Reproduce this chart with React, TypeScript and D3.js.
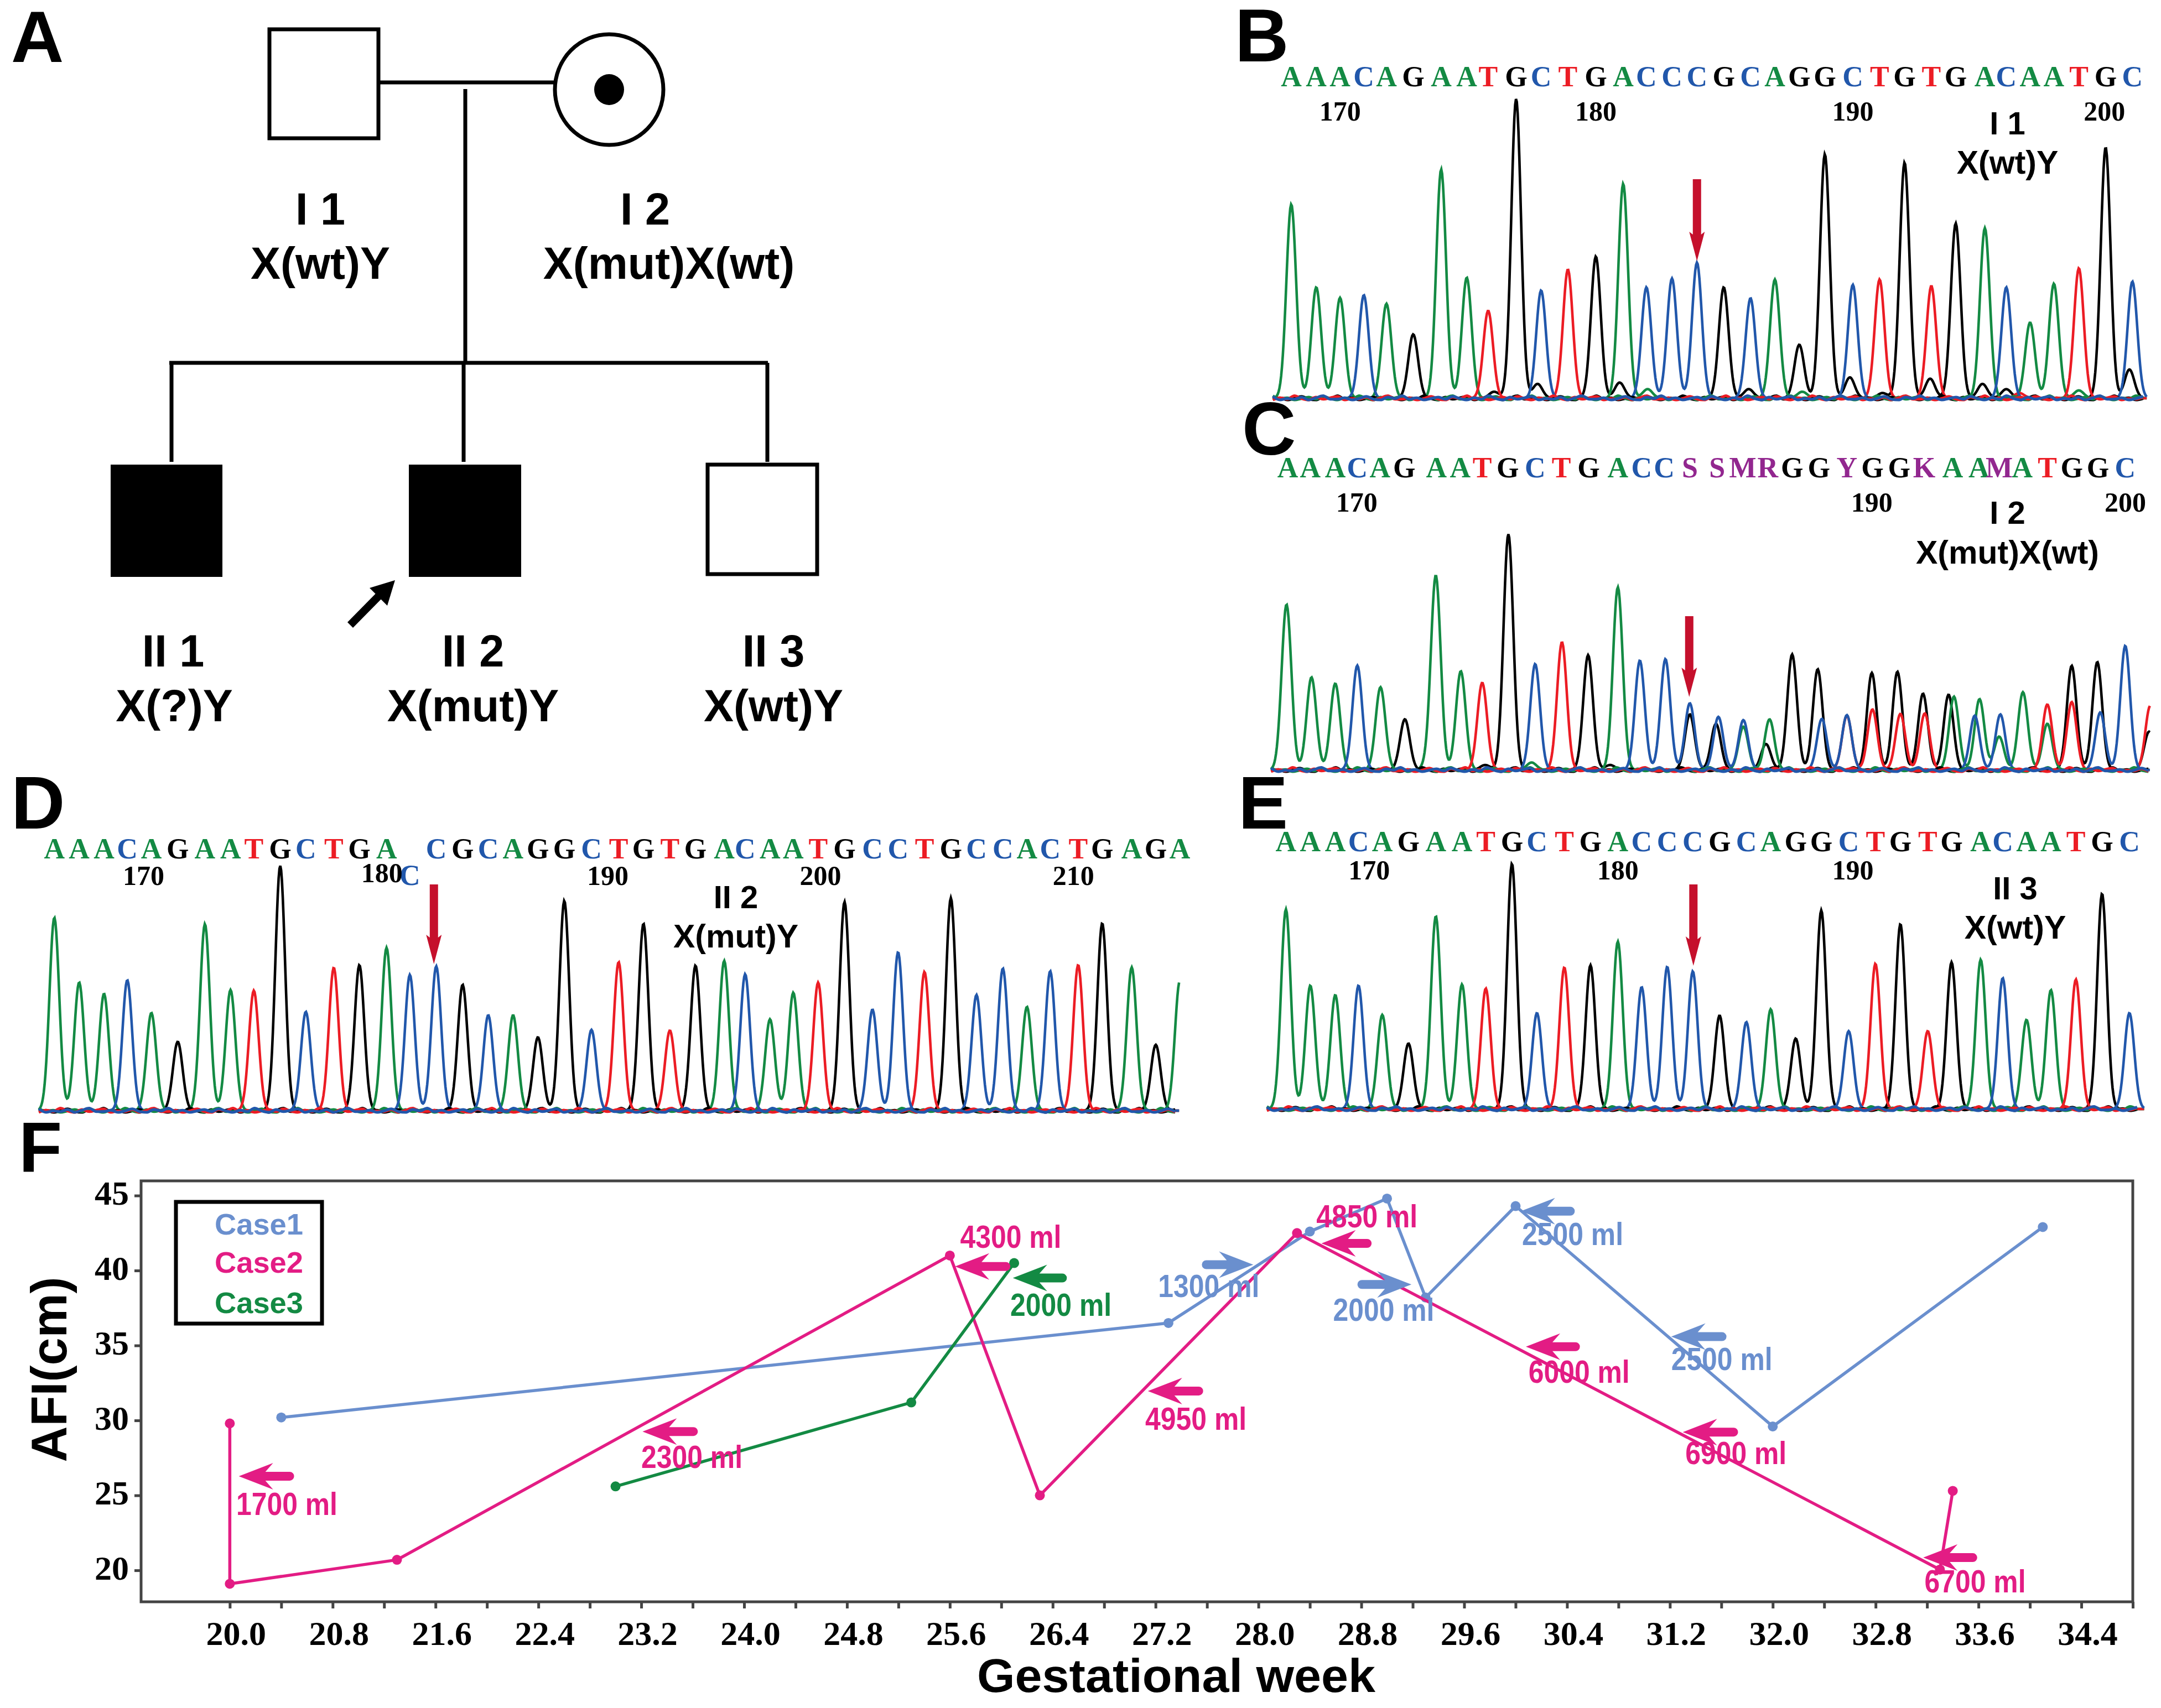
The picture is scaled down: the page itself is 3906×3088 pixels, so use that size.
import React, { useEffect, useRef } from 'react'
import * as d3 from 'd3'

// panel F: gestational week / AFI series
const case1Weeks = [20.4, 27.3, 28.4, 29.0, 29.3, 30.0, 32.0, 34.1]
const case1Afi = [30.2, 36.5, 42.6, 44.8, 38.2, 44.3, 29.6, 42.9]
const case2Weeks = [20.0, 20.0, 21.3, 25.6, 26.3, 28.3, 33.3, 33.4]
const case2Afi = [29.8, 19.1, 20.7, 41.0, 25.0, 42.5, 20.05, 25.3]
const case3Weeks = [23.0, 25.3, 26.1]
const case3Afi = [25.6, 31.2, 40.5]
const caseNames = ['Case1', 'Case2', 'Case3']
const caseColors = ['#6a8fce', '#e31c84', '#138a43']
const afiTicks = [20, 25, 30, 35, 40, 45]

// drainage volume call-outs, in week / AFI units
const volumeLabels = ['1700 ml', '2300 ml', '4300 ml', '2000 ml', '1300 ml', '4850 ml', '2000 ml', '2500 ml', '2500 ml', '6000 ml', '6900 ml', '6700 ml', '4950 ml']
const volumeCase = [1, 1, 1, 2, 0, 1, 0, 0, 0, 1, 1, 1, 1]
const volumeTipWeek = [20.07, 23.21, 25.64, 26.09, 27.96, 28.49, 29.19, 30.04, 31.21, 30.08, 31.3, 33.17, 27.14]
const volumeTailWeek = [20.5, 23.64, 26.07, 26.51, 27.56, 28.88, 28.77, 30.46, 31.64, 30.5, 31.73, 33.59, 27.57]
const volumeArrowAfi = [26.28, 29.26, 40.27, 39.5, 40.39, 41.81, 39.07, 43.96, 35.59, 34.92, 29.22, 20.85, 31.96]
const volumeTextWeek = [20.05, 23.2, 25.68, 26.07, 27.22, 28.45, 28.58, 30.05, 31.21, 30.1, 31.32, 33.18, 27.12]
const volumeTextAfi = [23.71, 26.82, 41.51, 36.96, 38.23, 42.88, 36.66, 41.71, 33.35, 32.5, 27.07, 18.53, 29.39]

// panel B trace
const seqB = 'AAACAGAATGCTGACCCGCAGGCTGTGACAATGC'
const posB = [106, 148, 188, 228, 266, 311, 358, 401, 437, 484, 526, 571, 618, 664, 703, 746, 788, 833, 878, 919, 960, 1003, 1050, 1095, 1137, 1182, 1223, 1272, 1308, 1348, 1388, 1430, 1475, 1520]
const heightB = [743, 425, 385, 395, 362, 245, 877, 462, 335, 1147, 413, 493, 543, 822, 425, 459, 520, 425, 383, 455, 205, 935, 435, 455, 903, 430, 670, 652, 425, 290, 439, 498, 960, 447]
const minorBaseB = 'GGAGGGGGAGGTAG'
const minorPosB = [520, 658, 705, 875, 1045, 1180, 1268, 1515, 1430, 1100, 447, 1330, 965, 1308]
const minorHeightB = [55, 60, 35, 35, 80, 75, 55, 110, 30, 20, 25, 20, 25, 35]

// panel C trace, heterozygous after the arrow
const seqC = 'AAACAGAATGCTGACCSSMRGGYGGKAAMATGGC'
const seqPosC = [100, 138, 180, 217, 255, 296, 350, 390, 427, 470, 516, 560, 606, 655, 695, 733, 776, 822, 865, 907, 948, 993, 1040, 1083, 1128, 1170, 1218, 1262, 1296, 1335, 1377, 1418, 1462, 1508]
const baseC = 'AAACAGAATGCTGACCCGCGCAAGGGCCTGTGTGTGACACAATAGTGCCTGAGAG'
const posC = [98, 140, 180, 217, 256, 297, 349, 391, 427, 471, 516, 561, 605, 655, 692, 735, 776, 776, 824, 820, 866, 866, 910, 904, 948, 991, 998, 1040, 1040, 1082, 1083, 1125, 1130, 1168, 1171, 1211, 1220, 1255, 1263, 1298, 1296, 1336, 1377, 1377, 1418, 1418, 1461, 1466, 1508, 1550, 1548, 335, 432, 510, 642]
const heightC = [670, 375, 350, 423, 335, 205, 783, 400, 353, 955, 429, 517, 465, 740, 443, 449, 270, 225, 215, 187, 202, 175, 205, 105, 468, 408, 207, 222, 220, 393, 245, 398, 227, 309, 229, 305, 297, 220, 287, 225, 135, 315, 265, 187, 422, 275, 437, 233, 503, 260, 155, 20, 20, 30, 20]

// panel D trace
const seqD = 'AAACAGAATGCTGACCGCAGGCTGTGACAATGCCTGCCACTGAGA'
const posD = [70, 102, 134, 164, 195, 229, 264, 297, 327, 361, 394, 430, 463, 498, 528, 562, 596, 629, 661, 693, 727, 762, 797, 829, 863, 896, 933, 960, 992, 1022, 1054, 1088, 1124, 1157, 1191, 1225, 1258, 1292, 1323, 1353, 1389, 1420, 1458, 1489, 1520]
const heightD = [855, 568, 518, 578, 433, 305, 827, 535, 532, 1085, 438, 633, 645, 722, 602, 640, 558, 423, 423, 325, 930, 358, 658, 828, 355, 643, 664, 605, 405, 523, 568, 925, 448, 702, 615, 942, 513, 630, 460, 618, 645, 830, 635, 292, 575]

// panel E trace
const seqE = 'AAACAGAATGCTGACCCGCAGGCTGTGACAATGC'
const posE = [97, 138, 180, 219, 259, 303, 349, 393, 433, 477, 519, 565, 609, 655, 695, 738, 781, 826, 871, 912, 954, 997, 1043, 1088, 1130, 1176, 1216, 1265, 1302, 1342, 1383, 1425, 1469, 1515]
const heightE = [885, 547, 505, 547, 417, 290, 854, 552, 534, 1087, 425, 627, 637, 742, 540, 630, 610, 414, 385, 442, 312, 880, 345, 644, 819, 345, 650, 662, 580, 395, 527, 574, 954, 425]

// low-level noise along every trace baseline
const baselineRipple = [1, 3, 0, 2, 5, 1, 0, 4, 2, 6, 1, 3, 0, 2, 4, 1, 5, 2, 0, 3, 1, 6, 2, 0, 4, 1, 3, 5, 0, 2, 1, 4, 0, 3, 6, 1]

const SANS = '"Liberation Sans", Arial, sans-serif'
const SERIF = '"Liberation Serif", "Times New Roman", serif'
const baseColor: Record<string, string> = { A: '#138a43', C: '#2157ab', G: '#000000', T: '#ec1c24' }
const PURPLE = '#92278f'
const ARROW_RED = '#c5102c'

type G = d3.Selection<SVGGElement, unknown, null, undefined>

const addText = (
  g: G,
  str: string,
  x: number,
  y: number,
  size: number,
  opts: { anchor?: string; fill?: string; family?: string; weight?: string; length?: number } = {},
) => {
  const t = g
    .append('text')
    .attr('x', x)
    .attr('y', y)
    .attr('font-size', size)
    .attr('font-family', opts.family ?? SANS)
    .attr('font-weight', opts.weight ?? 'bold')
    .attr('text-anchor', opts.anchor ?? 'middle')
    .attr('fill', opts.fill ?? '#000')
    .text(str)
  if (opts.length) t.attr('textLength', opts.length).attr('lengthAdjust', 'spacingAndGlyphs')
  return t
}

type Panel = {
  x0: number
  xf: number
  base: number
  yf: number
  seq: string
  seqPos: number[]
  seqBase: number
  peakBase: string
  peakPos: number[]
  peakHeight: number[]
  start: number
  end: number
  numbers: string[]
  numberPos: number[]
  numberY: number[]
  name: string
  genotype: string
  nameX: number
  nameY: number
  genoY: number
  arrowX: number
  arrowTop: number
  arrowTip: number
  skipLetter?: number
}

const panels: Panel[] = [
  {
    x0: 2220, xf: 1.0752, base: 720, yf: 0.4719, seq: seqB, seqPos: posB, seqBase: 156,
    peakBase: seqB + minorBaseB, peakPos: [...posB, ...minorPosB], peakHeight: [...heightB, ...minorHeightB],
    start: 75, end: 1545, numbers: ['170', '180', '190', '200'], numberPos: [188, 618, 1050, 1473], numberY: [218, 218, 218, 218],
    name: 'I 1', genotype: 'X(wt)Y', nameX: 1310, nameY: 243, genoY: 314, arrowX: 788, arrowTop: 324, arrowTip: 472,
  },
  {
    x0: 2220, xf: 1.0752, base: 1392, yf: 0.4464, seq: seqC, seqPos: seqPosC, seqBase: 863,
    peakBase: baseC, peakPos: posC, peakHeight: heightC,
    start: 72, end: 1550, numbers: ['170', '190', '200'], numberPos: [216, 1082, 1508], numberY: [925, 925, 925],
    name: 'I 2', genotype: 'X(mut)X(wt)', nameX: 1310, nameY: 947, genoY: 1019, arrowX: 775, arrowTop: 1114, arrowTip: 1260,
  },
  {
    x0: 0, xf: 1.403, base: 2008, yf: 0.408, seq: seqD, seqPos: posD, seqBase: 1552,
    peakBase: seqD, peakPos: posD, peakHeight: heightD,
    start: 50, end: 1520, numbers: ['170', '180', '190', '200', '210'], numberPos: [185, 492, 783, 1057, 1383], numberY: [1600, 1595, 1600, 1600, 1600],
    name: 'II 2', genotype: 'X(mut)Y', nameX: 948, nameY: 1642, genoY: 1713, arrowX: 559, arrowTop: 1599, arrowTip: 1743, skipLetter: 14,
  },
  {
    x0: 2220, xf: 1.0752, base: 2005, yf: 0.408, seq: seqE, seqPos: posE, seqBase: 1539,
    peakBase: seqE, peakPos: posE, peakHeight: heightE,
    start: 65, end: 1540, numbers: ['170', '180', '190'], numberPos: [237, 655, 1050], numberY: [1590, 1590, 1590],
    name: 'II 3', genotype: 'X(wt)Y', nameX: 1323, nameY: 1626, genoY: 1697, arrowX: 782, arrowTop: 1599, arrowTip: 1746,
  },
]

const SIGMA = 8.8

const drawPanel = (g: G, p: Panel) => {
  const xScale = d3.scaleLinear().domain([0, 1568]).range([p.x0, p.x0 + 1568 * p.xf])
  const yScale = d3.scaleLinear().domain([0, 1000]).range([p.base, p.base - 1000 * p.yf])
  const line = d3.line<[number, number]>().x((d) => d[0]).y((d) => d[1])
  const samples = d3.range(xScale(p.start), xScale(p.end), 1.5)

  // one trace per base, black first and blue on top
  ;['G', 'A', 'T', 'C'].forEach((b) => {
    const peaks = p.peakPos
      .map((pos, i) => ({ x: xScale(pos), h: p.peakHeight[i], b: p.peakBase[i] }))
      .filter((d) => d.b === b)
    const pts = samples.map((x): [number, number] => {
      const h = d3.sum(peaks, (d) => d.h * Math.exp(-((x - d.x) ** 2) / (2 * SIGMA * SIGMA)))
      return [x, yScale(h)]
    })
    g.append('path').attr('d', line(pts)).attr('fill', 'none').attr('stroke', baseColor[b]).attr('stroke-width', 4.6)
  })

  // thick noisy baseline
  const ripple = d3.line<[number, number]>().x((d) => d[0]).y((d) => d[1]).curve(d3.curveMonotoneX)
  const noiseX = d3.range(xScale(p.start), xScale(p.end), 13)
  ;['G', 'A', 'T', 'C'].forEach((b, k) => {
    const pts = noiseX.map((x, i): [number, number] => [x, p.base + 3 - baselineRipple[(i + k * 9) % baselineRipple.length] * 1.25])
    g.append('path').attr('d', ripple(pts)).attr('fill', 'none').attr('stroke', baseColor[b]).attr('stroke-width', 5)
  })

  // called bases
  p.seq.split('').forEach((c, i) => {
    if (i === p.skipLetter) return
    addText(g, c, xScale(p.seqPos[i]), p.seqBase, 52, { family: SERIF, fill: baseColor[c] ?? PURPLE })
  })
  if (p.skipLetter !== undefined) {
    addText(g, p.seq[p.skipLetter], xScale(p.seqPos[p.skipLetter]), 1600, 52, { family: SERIF, fill: baseColor.C })
  }

  p.numbers.forEach((n, i) => addText(g, n, xScale(p.numberPos[i]), p.numberY[i], 50, { family: SERIF }))
  addText(g, p.name, xScale(p.nameX), p.nameY, 58)
  addText(g, p.genotype, xScale(p.nameX), p.genoY, 59)

  const ax = xScale(p.arrowX)
  const neck = p.arrowTip - 48
  g.append('path')
    .attr('d', `M${ax - 7.5},${p.arrowTop}H${ax + 7.5}V${neck}L${ax + 14},${neck - 5}L${ax},${p.arrowTip}L${ax - 14},${neck - 5}L${ax - 7.5},${neck}Z`)
    .attr('fill', ARROW_RED)
}

const drawPedigree = (g: G) => {
  const stroke = (sel: d3.Selection<any, unknown, null, undefined>, w = 7) =>
    sel.attr('stroke', '#000').attr('stroke-width', w)
  const seg = (x1: number, y1: number, x2: number, y2: number) =>
    stroke(g.append('line').attr('x1', x1).attr('y1', y1).attr('x2', x2).attr('y2', y2))

  seg(686, 149, 1003, 149)
  seg(841, 161, 841, 656)
  seg(306, 656, 1388, 656)
  seg(310, 656, 310, 835)
  seg(838, 656, 838, 835)
  seg(1387, 656, 1387, 835)

  const box = (x: number, y: number, w: number, h: number, filled: boolean) =>
    stroke(g.append('rect').attr('x', x).attr('y', y).attr('width', w).attr('height', h).attr('fill', filled ? '#000' : '#fff'), filled ? 0 : 7)
  box(487, 53, 197, 197, false)
  box(200, 840, 202, 203, true)
  box(739, 840, 203, 203, true)
  box(1279, 840, 198, 198, false)

  stroke(g.append('ellipse').attr('cx', 1101).attr('cy', 162).attr('rx', 98).attr('ry', 100).attr('fill', '#fff'))
  g.append('ellipse').attr('cx', 1101).attr('cy', 162).attr('rx', 27).attr('ry', 28).attr('fill', '#000')

  // proband arrow
  seg(633, 1130, 695, 1067).attr('stroke-width', 14)
  g.append('path').attr('d', 'M714,1049L668,1063L700,1095Z').attr('fill', '#000')

  const labels: [string, number, number][] = [
    ['I 1', 579, 406], ['X(wt)Y', 579, 504],
    ['I 2', 1166, 406], ['X(mut)X(wt)', 1209, 504],
    ['II 1', 313, 1205], ['X(?)Y', 315, 1304],
    ['II 2', 855, 1205], ['X(mut)Y', 855, 1304],
    ['II 3', 1398, 1205], ['X(wt)Y', 1398, 1304],
  ]
  labels.forEach(([s, x, y]) => addText(g, s, x, y, 81))
}

const drawAfi = (g: G) => {
  const left = 255
  const right = 3855
  const top = 2135
  const bottom = 2896
  const xScale = d3.scaleLinear().domain([19.31, 34.8]).range([left, right])
  const yScale = d3.scaleLinear().domain([17.9, 45.98]).range([bottom, top])

  const weekTicks = d3.range(20, 34.81, 0.4)
  const xAxis = g
    .append('g')
    .attr('transform', `translate(0,${bottom})`)
    .call(
      d3
        .axisBottom(xScale)
        .tickValues(weekTicks)
        .tickSize(12)
        .tickFormat((d, i) => (i % 2 === 0 ? (d as number).toFixed(1) : '')),
    )
  const yAxis = g
    .append('g')
    .attr('transform', `translate(${left},0)`)
    .call(d3.axisLeft(yScale).tickValues(afiTicks).tickSize(12))
  ;[xAxis, yAxis].forEach((a) => {
    a.select('.domain').remove()
    a.selectAll('.tick line').attr('stroke', '#444').attr('stroke-width', 5)
    a.selectAll('.tick text')
      .attr('font-family', SERIF)
      .attr('font-weight', 'bold')
      .attr('font-size', 62)
      .attr('fill', '#000')
  })
  xAxis.selectAll('.tick text').attr('dx', 11).attr('dy', 0).attr('y', 78)
  yAxis.selectAll('.tick text').attr('x', -22).attr('dy', 16)

  g.append('rect')
    .attr('x', left)
    .attr('y', top)
    .attr('width', right - left)
    .attr('height', bottom - top)
    .attr('fill', 'none')
    .attr('stroke', '#444')
    .attr('stroke-width', 5)

  const series = [
    { weeks: case1Weeks, afi: case1Afi },
    { weeks: case2Weeks, afi: case2Afi },
    { weeks: case3Weeks, afi: case3Afi },
  ]
  series.forEach((s, k) => {
    const pts = s.weeks.map((w, i): [number, number] => [xScale(w), yScale(s.afi[i])])
    g.append('path')
      .attr('d', d3.line()(pts))
      .attr('fill', 'none')
      .attr('stroke', caseColors[k])
      .attr('stroke-width', 5.5)
      .attr('stroke-linejoin', 'round')
    g.selectAll(null)
      .data(pts)
      .enter()
      .append('circle')
      .attr('cx', (d) => d[0])
      .attr('cy', (d) => d[1])
      .attr('r', 9)
      .attr('fill', caseColors[k])
  })

  volumeLabels.forEach((label, i) => {
    const color = caseColors[volumeCase[i]]
    const tip = xScale(volumeTipWeek[i])
    const tail = xScale(volumeTailWeek[i])
    const y = yScale(volumeArrowAfi[i])
    const dir = tail > tip ? 1 : -1
    const neck = tip + dir * 48
    const barb = tip + dir * 62
    g.append('path')
      .attr(
        'd',
        `M${tip},${y}L${barb},${y - 24}L${neck},${y - 8}L${tail - dir * 8},${y - 8}` +
          `A8,8 0 0 ${dir > 0 ? 1 : 0} ${tail - dir * 8},${y + 8}L${neck},${y + 8}L${barb},${y + 24}Z`,
      )
      .attr('fill', color)
    addText(g, label, xScale(volumeTextWeek[i]), yScale(volumeTextAfi[i]), 58, { anchor: 'start', fill: color, length: 183 })
  })

  // legend
  g.append('rect')
    .attr('x', 318)
    .attr('y', 2173)
    .attr('width', 264)
    .attr('height', 220)
    .attr('fill', '#fff')
    .attr('stroke', '#000')
    .attr('stroke-width', 7)
  caseNames.forEach((name, i) => {
    addText(g, name, 388, [2232, 2301, 2374][i], 54, { anchor: 'start', fill: caseColors[i], length: 160 })
  })

  addText(g, 'Gestational week', 2126, 3059, 86, { length: 720 })
  addText(g, 'AFI(cm)', 0, 0, 90).attr('transform', 'translate(120,2476) rotate(-90)')
}

const App: React.FC = () => {
  const chartRef = useRef<SVGSVGElement>(null)

  useEffect(() => {
    const svg = d3.select(chartRef.current)
    svg.selectAll('*').remove()
    const root = svg.append('g') as unknown as G

    drawPedigree(root)
    panels.forEach((p) => drawPanel(root, p))
    drawAfi(root)

    const letters: [string, number, number, number][] = [
      ['A', 20, 112, 132],
      ['B', 2232, 111, 135],
      ['C', 2245, 822, 135],
      ['D', 20, 1498, 135],
      ['E', 2238, 1498, 135],
      ['F', 34, 2118, 128],
    ]
    letters.forEach(([s, x, y, size]) => addText(root, s, x, y, size, { anchor: 'start' }))
  }, [])

  return (
    <svg
      ref={chartRef}
      width={3906}
      height={3088}
      style={{ position: 'absolute', left: 0, top: 0, background: '#fff' }}
    ></svg>
  )
}

export default App
